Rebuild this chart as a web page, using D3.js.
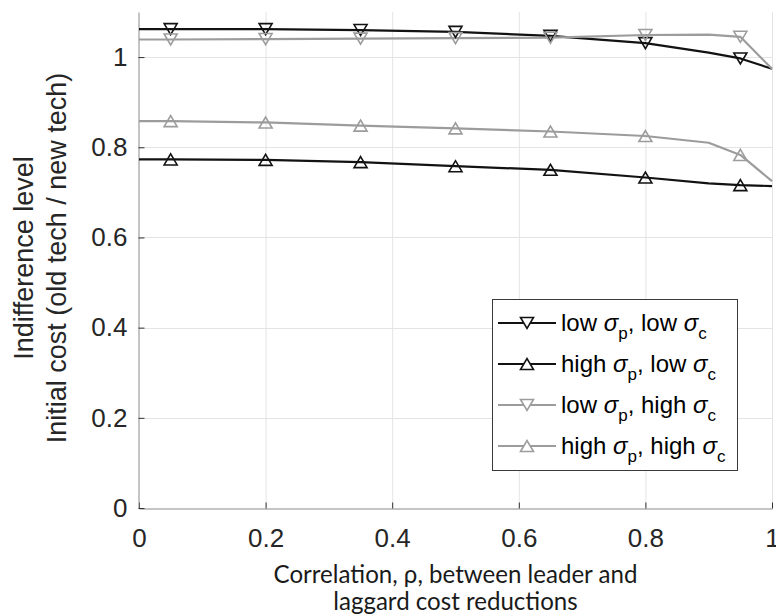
<!DOCTYPE html>
<html>
<head>
<meta charset="utf-8">
<script src="https://cdn.jsdelivr.net/npm/d3@7"></script>
<style>
  body { margin: 0; background: #fff; }
  svg { display: block; }
</style>
</head>
<body>
<svg id="chart" width="776" height="616"></svg>
<script>
// Correlation values at which each curve was evaluated
const rho = [0, 0.05, 0.2, 0.35, 0.5, 0.65, 0.8, 0.9, 0.95, 1];
// Correlation values that carry a marker
const markerRho = [0.05, 0.2, 0.35, 0.5, 0.65, 0.8, 0.95];

// Indifference level (old tech / new tech initial cost) for each volatility case
const lowPLowC   = [1.062, 1.062, 1.062, 1.060, 1.056, 1.047, 1.031, 1.010, 0.997, 0.974];
const highPLowC  = [0.773, 0.773, 0.772, 0.767, 0.758, 0.750, 0.733, 0.720, 0.716, 0.714];
const lowPHighC  = [1.039, 1.039, 1.040, 1.041, 1.042, 1.043, 1.049, 1.050, 1.045, 0.974];
const highPHighC = [0.858, 0.858, 0.855, 0.848, 0.842, 0.835, 0.825, 0.810, 0.783, 0.725];

const sigmaPLevel = ["low", "high", "low", "high"];
const sigmaCLevel = ["low", "low", "high", "high"];
const markerKind  = ["down", "up", "down", "up"];
const lineColors  = ["#121212", "#121212", "#9c9c9c", "#9c9c9c"];

const xTicks = [0, 0.2, 0.4, 0.6, 0.8, 1];
const yTicks = [0, 0.2, 0.4, 0.6, 0.8, 1];
const xDomain = [0, 1];
const yDomain = [0, 1.1];

const xLabelLines = ["Correlation, \u03c1, between leader and", "laggard cost reductions"];
const yLabelLines = ["Indifference level", "Initial cost (old tech / new tech)"];

const seriesValues = [lowPLowC, highPLowC, lowPHighC, highPHighC];
const series = seriesValues.map((vals, i) => ({
  values: rho.map((r, j) => ({ r, v: vals[j] })),
  p: sigmaPLevel[i], c: sigmaCLevel[i], kind: markerKind[i], color: lineColors[i]
}));

const svg = d3.select("#chart");
const plotLeft = 139, plotRight = 772, plotTop = 12, plotBottom = 508;

const x = d3.scaleLinear().domain(xDomain).range([plotLeft, plotRight]);
const y = d3.scaleLinear().domain(yDomain).range([plotBottom, plotTop]);

const tickFont = "'Liberation Sans', Arial, Helvetica, sans-serif";
const fmt = d3.format("~g");

// grid
const grid = svg.append("g").attr("stroke", "#e4e4e4").attr("stroke-width", 1);
grid.selectAll("line.gx").data(xTicks.filter(t => t > 0)).join("line")
  .attr("x1", d => x(d) + 0.5).attr("x2", d => x(d) + 0.5)
  .attr("y1", plotTop).attr("y2", plotBottom);
grid.selectAll("line.gy").data(yTicks.filter(t => t > 0)).join("line")
  .attr("x1", plotLeft).attr("x2", plotRight)
  .attr("y1", d => Math.round(y(d)) + 0.5).attr("y2", d => Math.round(y(d)) + 0.5);

// axes with inward ticks
const xAxis = svg.append("g")
  .attr("transform", `translate(0,${plotBottom + 0.5})`)
  .call(d3.axisBottom(x).tickValues(xTicks).tickFormat(fmt)
    .tickSizeInner(-6).tickSizeOuter(0).tickPadding(20));
const yAxis = svg.append("g")
  .attr("transform", `translate(${plotLeft - 0.5},0)`)
  .call(d3.axisLeft(y).tickValues(yTicks).tickFormat(fmt)
    .tickSizeInner(-6).tickSizeOuter(0).tickPadding(11));

[xAxis, yAxis].forEach(g => {
  g.select(".domain").attr("stroke", "#8a8a8a");
  g.selectAll(".tick line").attr("stroke", "#303030");
  g.selectAll(".tick text")
    .attr("fill", "#262626")
    .style("font-family", tickFont)
    .style("font-size", "26px");
});

// curves
const line = d3.line().x(d => x(d.r)).y(d => y(d.v));
const triPath = kind => kind === "down"
  ? "M-6.5,-5.5L6.5,-5.5L0,5.5Z"
  : "M-6.5,5.5L6.5,5.5L0,-5.5Z";

const plot = svg.append("g");
series.forEach(s => {
  plot.append("path").datum(s.values)
    .attr("d", line).attr("fill", "none")
    .attr("stroke", s.color).attr("stroke-width", 2.2)
    .attr("stroke-linejoin", "round");
});
series.forEach(s => {
  plot.selectAll(null).data(s.values.filter(d => markerRho.includes(d.r))).join("path")
    .attr("transform", d => `translate(${x(d.r)},${y(d.v)})`)
    .attr("d", triPath(s.kind))
    .attr("fill", "none").attr("stroke", s.color).attr("stroke-width", 1.6)
    .attr("stroke-linejoin", "miter");
});

// y label (two lines, rotated)
const yLab = svg.append("text")
  .attr("transform", "translate(0,258) rotate(-90)")
  .attr("text-anchor", "middle")
  .attr("fill", "#262626")
  .style("font-family", tickFont).style("font-size", "27px");
yLabelLines.forEach((t, i) => {
  yLab.append("tspan").attr("x", 0).attr("y", 33 + i * 33).text(t);
});

// x label (two lines, humanist face)
const xLab = svg.append("g").attr("fill", "#1a1a1a")
  .style("font-family", "Lato, 'Open Sans', sans-serif");
const xLabTargetWidth = 364;
const xLabTexts = xLabelLines.map((t, i) => xLab.append("text")
  .attr("x", (plotLeft + plotRight) / 2).attr("y", 583 + i * 27)
  .attr("text-anchor", "middle").style("font-size", "20px").text(t));
const w0 = xLabTexts[0].node().getComputedTextLength();
if (w0 > 0) {
  const fs = 20 * xLabTargetWidth / w0;
  xLabTexts.forEach(t => t.style("font-size", fs + "px"));
}

// legend
const lg = svg.append("g");
lg.append("rect").attr("x", 492.5).attr("y", 299.5).attr("width", 245).attr("height", 171)
  .attr("fill", "#fff").attr("stroke", "#3a3a3a").attr("stroke-width", 1);
series.forEach((s, i) => {
  const cy = 323 + i * 41;
  lg.append("line").attr("x1", 498).attr("x2", 556).attr("y1", cy).attr("y2", cy)
    .attr("stroke", s.color).attr("stroke-width", 2);
  lg.append("path").attr("transform", `translate(527,${cy})`).attr("d", triPath(s.kind))
    .attr("fill", "#fff").attr("stroke", s.color).attr("stroke-width", 1.6);
  const t = lg.append("text").attr("x", 561).attr("y", cy + 8)
    .attr("fill", "#000")
    .style("font-family", tickFont).style("font-size", "24px");
  t.append("tspan").text(s.p + " ");
  t.append("tspan").style("font-style", "italic").text("\u03c3");
  t.append("tspan").attr("dy", 8).style("font-size", "17px").text("p");
  t.append("tspan").attr("dy", -8).text(", " + s.c + " ");
  t.append("tspan").style("font-style", "italic").text("\u03c3");
  t.append("tspan").attr("dy", 8).style("font-size", "17px").text("c");
});
</script>
</body>
</html>
